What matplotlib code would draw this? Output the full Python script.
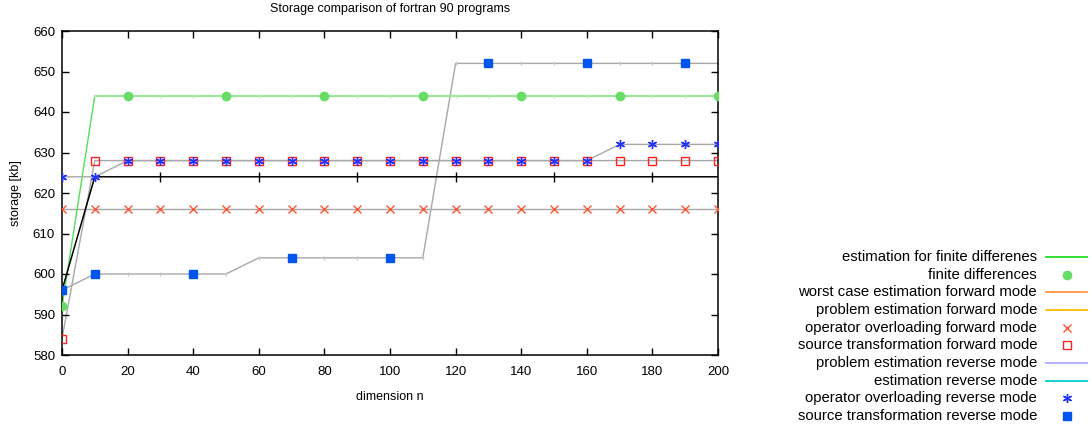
import matplotlib
matplotlib.use("Agg")
from matplotlib import pyplot as plt
from matplotlib.lines import Line2D

plt.rcParams['font.family'] = ['Liberation Sans', 'DejaVu Sans']

# dimension n
x = list(range(0, 210, 10))

# storage [kb] for each method
fd = [592] + [644] * 20
op_fwd = [616] * 21
st_fwd = [584] + [628] * 20
op_rev = [624, 624] + [628] * 15 + [632] * 4
st_rev = [596] + [600] * 5 + [604] * 6 + [652] * 9
est_rev = [596] + [624] * 20

fig = plt.figure(figsize=(10.91, 4.33), dpi=100)
ax = fig.add_axes([62 / 1091, 1 - 355 / 433, 656 / 1091, 324 / 433])

gray = "#a8a8a8"

# connecting lines
ax.plot(x, op_fwd, color=gray, lw=1, zorder=1)
ax.plot(x, st_fwd, color=gray, lw=1, zorder=1)
ax.plot(x, op_rev, color=gray, lw=1, zorder=1)
ax.plot(x, st_rev, color=gray, lw=1, zorder=1,
        marker="|", ms=3, mec="#c8c8c8")
ax.plot(x[:2], fd[:2], color="#55dd55", lw=1, zorder=1)
ax.plot(x[1:], fd[1:], color="#9be89b", lw=1.6, zorder=1,
        marker="|", ms=3, mec="#c8e8c8")
ax.plot(x, est_rev, color="black", lw=1.1, zorder=2,
        marker="|", ms=7, markevery=[3, 6, 9, 12, 15, 18])

# measured points
ax.plot(x, fd, ls="none", marker="o", ms=6, color="#66dd66", mec="#66dd66",
        markevery=[0, 2, 5, 8, 11, 14, 17, 20], zorder=3)
ax.plot(x, op_fwd, ls="none", marker="x", ms=5.5, mew=1, color="#ff5533",
        zorder=3)
ax.plot(x, st_fwd, ls="none", marker="s", ms=6, mew=1, mfc="none",
        mec="#ff2020", zorder=3)
ax.plot(x, st_rev, ls="none", marker="s", ms=6, color="#0055ee",
        markevery=[0, 1, 4, 7, 10, 13, 16, 19], zorder=4)
ax.plot(x, op_rev, ls="none", marker=(6, 2, 0), ms=6.5, mew=1,
        color="#2233ff", zorder=5)

ax.set_xlim(0, 200)
ax.set_ylim(580, 660)
ax.set_xticks(range(0, 201, 20))
ax.set_yticks(range(580, 661, 10))
ax.tick_params(direction="in", length=5, width=1, top=True, right=True,
               labelsize=9.5, colors="black")
ax.tick_params(axis="x", pad=8)
ax.tick_params(axis="y", pad=5)
for s in ax.spines.values():
    s.set_linewidth(1.1)

ax.set_title("Storage comparison of fortran 90 programs", fontsize=9, pad=14)
ax.set_xlabel("dimension n", fontsize=9, labelpad=9)
ax.set_ylabel("storage [kb]", fontsize=9, labelpad=8)

# key on the right
labels = [
    "estimation for finite differenes",
    "finite differences",
    "worst case estimation forward mode",
    "problem estimation forward mode",
    "operator overloading forward mode",
    "source transformation forward mode",
    "problem estimation reverse mode",
    "estimation reverse mode",
    "operator overloading reverse mode",
    "source transformation reverse mode",
]
keys = [
    dict(color="#22dd22", lw=1.3),
    dict(ls="none", marker="o", ms=6, color="#66dd66"),
    dict(color="#ff9944", lw=1.3),
    dict(color="#ffbb00", lw=1.3),
    dict(ls="none", marker="x", ms=5.5, color="#ff5533"),
    dict(ls="none", marker="s", ms=6, mfc="none", mec="#ff2020"),
    dict(color="#aaaaff", lw=1.3),
    dict(color="#00cccc", lw=1.3),
    dict(ls="none", marker=(6, 2, 0), ms=6.5, color="#2233ff"),
    dict(ls="none", marker="s", ms=6, color="#0055ee"),
]
W, H = 1091, 433
for i, (lab, kw) in enumerate(zip(labels, keys)):
    y = 257 + i * 17.65
    fig.text(1037 / W, 1 - y / H, lab, ha="right", va="center", fontsize=10.7)
    if kw.get("ls") == "none":
        fig.add_artist(Line2D([1067 / W], [1 - y / H], **kw))
    else:
        fig.add_artist(Line2D([1046 / W, 1087 / W], [1 - y / H, 1 - y / H], **kw))

fig.savefig("out.png", dpi=100)
